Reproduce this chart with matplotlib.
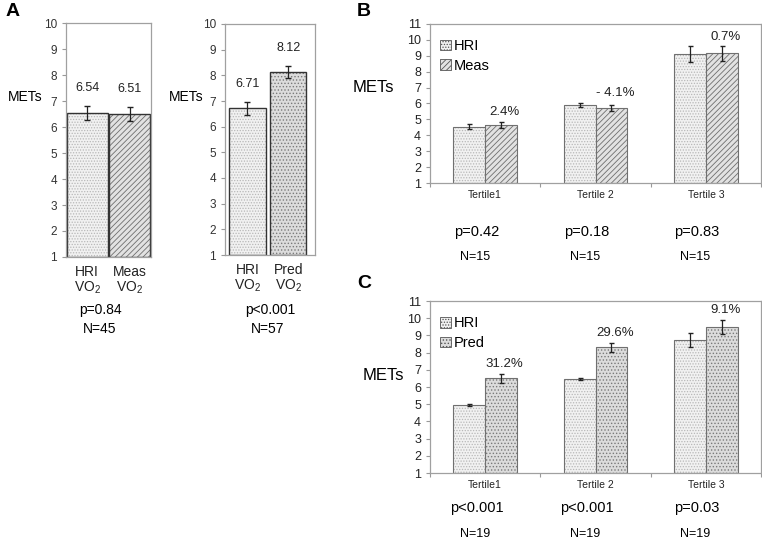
import numpy as np
from matplotlib import pyplot as plt

plt.rcParams['font.family'] = ['Liberation Sans', 'DejaVu Sans']
plt.rcParams['mathtext.fontset'] = 'custom'
plt.rcParams['mathtext.rm'] = 'Liberation Sans'
plt.rcParams['mathtext.it'] = 'Liberation Sans:italic'
plt.rcParams['mathtext.bf'] = 'Liberation Sans:bold'
plt.rcParams['hatch.linewidth'] = 0.6

# panel A
a1_labels = ['HRI\nVO$_2$', 'Meas\nVO$_2$']
a1_values = [6.54, 6.51]
a1_errors = [0.27, 0.27]
a2_labels = ['HRI\nVO$_2$', 'Pred\nVO$_2$']
a2_values = [6.71, 8.12]
a2_errors = [0.25, 0.23]

# panel B
tertiles   = ['Tertile1', 'Tertile 2', 'Tertile 3']
b_hri      = [4.55, 5.90, 9.10]
b_hri_err  = [0.15, 0.15, 0.50]
b_meas     = [4.65, 5.70, 9.15]
b_meas_err = [0.20, 0.20, 0.45]
b_diff     = ['2.4%', '- 4.1%', '0.7%']
b_p        = ['p=0.42', 'p=0.18', 'p=0.83']
b_n        = ['N=15', 'N=15', 'N=15']

# panel C
c_hri      = [4.95, 6.45, 8.75]
c_hri_err  = [0.08, 0.07, 0.40]
c_pred     = [6.50, 8.30, 9.50]
c_pred_err = [0.25, 0.25, 0.40]
c_diff     = ['31.2%', '29.6%', '9.1%']
c_p        = ['p<0.001', 'p<0.001', 'p=0.03']
c_n        = ['N=19', 'N=19', 'N=19']

W, H = 762, 540
STY = {
	'hri':  dict(fc='#f1f1f1', hc='#b8b8b8', hatch='......'),
	'meas': dict(fc='#e2e2e2', hc='#6e6e6e', hatch='//////'),
	'pred': dict(fc='#dcdcdc', hc='#7a7a7a', hatch='.....'),
}

def box(l, t, r, b):
	return [l / W, 1 - b / H, (r - l) / W, (b - t) / H]

def ftext(x, y, s, **kw):
	fig.text(x / W, 1 - y / H, s, ha='center', va='center', **kw)

def hbar(ax, x, h, w, kind, edge, lw, label=None):
	s = STY[kind]
	ax.bar(x, h, w, bottom=1, color=s['fc'], edgecolor=s['hc'], hatch=s['hatch'], linewidth=0)
	ax.bar(x, h, w, bottom=1, fill=False, edgecolor=edge, linewidth=lw)
	if label:
		ax.bar(0, 0, 0, bottom=1, color=s['fc'], edgecolor='#555555', hatch=s['hatch'],
			   linewidth=0.6, label=label)

def gray_frame(ax):
	for sp in ax.spines.values():
		sp.set_color('#a0a0a0')
		sp.set_linewidth(0.9)

fig = plt.figure(figsize=(W / 100, H / 100), dpi=100)

# ---- panel A ----
for rect, xl, labels, vals, errs, kinds, bw in [
		(box(66, 23, 151, 257), (-0.5, 1.5), a1_labels, a1_values, a1_errors, ['hri', 'meas'], 0.96),
		(box(225, 24, 315, 255), (-0.55, 1.65), a2_labels, a2_values, a2_errors, ['hri', 'pred'], 0.88)]:
	ax = fig.add_axes(rect)
	x = np.arange(len(vals))
	for i in x:
		hbar(ax, i, np.array(vals[i]) - 1, bw, kinds[i], '#333333', 1.0)
	ax.errorbar(x, vals, yerr=errs, fmt='none', ecolor='#222222', elinewidth=0.9, capsize=2)
	for i in x:
		ax.text(i, vals[i] + errs[i] + 0.7, '%.2f' % vals[i], ha='center', va='center', fontsize=9, color='#222222')
	ax.set_xlim(*xl)
	ax.set_ylim(1, 10)
	ax.set_yticks(range(1, 11))
	ax.set_xticks(x)
	ax.set_xticklabels(labels, fontsize=10, color='#222222', linespacing=1.05)
	ax.tick_params(axis='y', labelsize=8.5, length=3, color='#999999', colors='#333333')
	ax.tick_params(axis='x', length=0, pad=6)
	gray_frame(ax)

ftext(25, 97, 'METs', fontsize=10)
ftext(186, 97, 'METs', fontsize=10)
ftext(100, 310, 'p=0.84', fontsize=10)
ftext(100, 329, 'N=45', fontsize=10)
ftext(270, 310, 'p<0.001', fontsize=10)
ftext(268, 329, 'N=57', fontsize=10)

# ---- panels B and C ----
for rect, ser1, err1, ser2, err2, k2, name2, diffs, ps, ns, ylab, yp, yn in [
		(box(430, 24, 761, 183), b_hri, b_hri_err, b_meas, b_meas_err, 'meas', 'Meas', b_diff, b_p, b_n, (373, 88), 232, 257),
		(box(430, 301, 761, 473), c_hri, c_hri_err, c_pred, c_pred_err, 'pred', 'Pred', c_diff, c_p, c_n, (383, 375), 508, 534)]:
	ax = fig.add_axes(rect)
	x = np.arange(len(tertiles)) + 0.5
	bw = 0.29
	hbar(ax, x - bw / 2, np.array(ser1) - 1, bw, 'hri', '#707070', 0.8, label='HRI')
	hbar(ax, x + bw / 2, np.array(ser2) - 1, bw, k2, '#707070', 0.8, label=name2)
	ax.errorbar(x - bw / 2, ser1, yerr=err1, fmt='none', ecolor='#222222', elinewidth=0.9, capsize=1.8)
	ax.errorbar(x + bw / 2, ser2, yerr=err2, fmt='none', ecolor='#222222', elinewidth=0.9, capsize=1.8)
	for i in range(len(x)):
		top = max(ser1[i] + err1[i], ser2[i] + err2[i])
		ax.text(x[i] + bw / 2 + 0.03, top + 0.6, diffs[i], ha='center', va='center', fontsize=9.5, color='#222222')
	ax.set_xlim(0, 3)
	ax.set_ylim(1, 11)
	ax.set_yticks(range(1, 12))
	ax.set_xticks([0, 1, 2, 3])
	ax.set_xticklabels([])
	ax.set_xticks(x, minor=True)
	ax.set_xticklabels(tertiles, minor=True, fontsize=7.5, color='#222222')
	ax.tick_params(axis='x', which='major', length=3, color='#999999')
	ax.tick_params(axis='x', which='minor', length=0, pad=5)
	ax.tick_params(axis='y', labelsize=9, length=3, color='#999999', colors='#222222')
	gray_frame(ax)
	ax.legend(loc='upper left', frameon=False, fontsize=10.5, handlelength=0.75, handleheight=0.75,
			  handletextpad=0.2, labelspacing=0.4, borderaxespad=0.3, bbox_to_anchor=(0.0, 0.97))
	ftext(ylab[0], ylab[1], 'METs', fontsize=12)
	for i in range(len(x)):
		xp = 430 + x[i] * 110
		ftext(xp - 8, yp, ps[i], fontsize=10.5)
		ftext(xp - 10, yn, ns[i], fontsize=9)

ftext(13, 11, 'A', fontsize=14, fontweight='bold')
ftext(364, 12, 'B', fontsize=14, fontweight='bold')
ftext(364, 283, 'C', fontsize=14, fontweight='bold')

fig.savefig('out.png', dpi=100)
